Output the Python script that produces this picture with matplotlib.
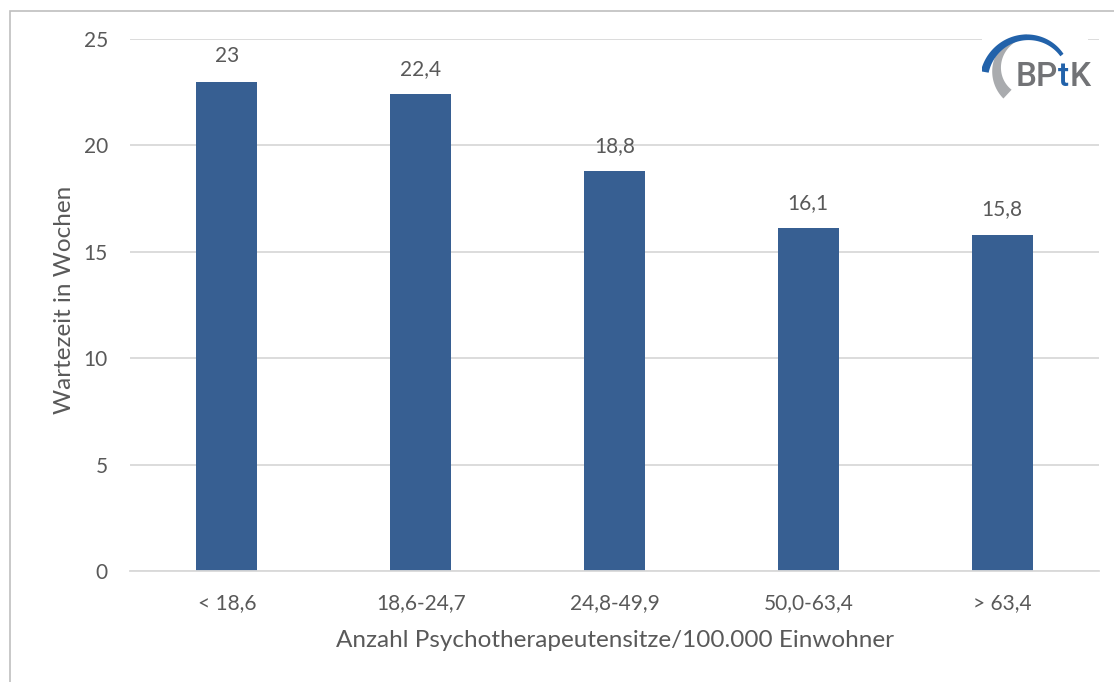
import matplotlib
import numpy as np

matplotlib.use("Agg")
import matplotlib.pyplot as plt
from matplotlib.patches import Polygon, Rectangle


W, H = 1114, 682

categories = ["< 18,6", "18,6-24,7", "24,8-49,9", "50,0-63,4", "> 63,4"]
waiting_weeks = [23, 22.4, 18.8, 16.1, 15.8]
value_labels = ["23", "22,4", "18,8", "16,1", "15,8"]
y_ticks = [0, 5, 10, 15, 20, 25]

BAR_COLOR = "#375f92"
TEXT_COLOR = "#595959"
GRID_COLOR = "#d9d9d9"
FONT = ["Lato", "DejaVu Sans"]
LOGO_FONT = ["Roboto", "DejaVu Sans"]
LOGO_BLUE = "#2262aa"
LOGO_GRAY = "#727376"

plt.rcParams["font.family"] = FONT


def tapered_arc(cx, cy, r0, r1, a0, a1, w0, w1, n=80):
    # band along a curve whose radius and thickness change from start to end
    t = np.linspace(0, 1, n)
    ang = np.radians(a0 + (a1 - a0) * t)
    r = r0 + (r1 - r0) * t
    w = w0 + (w1 - w0) * t
    outer = np.column_stack([cx + (r + w / 2) * np.cos(ang), cy + (r + w / 2) * np.sin(ang)])
    inner = np.column_stack([cx + (r - w / 2) * np.cos(ang), cy + (r - w / 2) * np.sin(ang)])
    return np.vstack([outer, inner[::-1]])


fig = plt.figure(figsize=(W / 100, H / 100), dpi=100)

# light frame of the chart area
fig.patches.append(Rectangle((9.5 / W, -0.1), 1.2, (H - 10.5) / H + 0.1, transform=fig.transFigure,
                             fill=False, edgecolor="#bfbfbf", linewidth=1.2))

ax = fig.add_axes([130 / W, 1 - 571 / H, (1099 - 130) / W, (571 - 39) / H])
x = np.arange(len(categories))
bars = ax.bar(x, waiting_weeks, width=0.315, color=BAR_COLOR, zorder=3)

for bar, label in zip(bars, value_labels):
    ax.annotate(label, (bar.get_x() + bar.get_width() / 2, bar.get_height()),
                xytext=(0, 11), textcoords="offset points", ha="center", va="bottom",
                fontsize=15, color=TEXT_COLOR)

ax.set_xlim(-0.5, len(categories) - 0.5)
ax.set_ylim(0, 25)
ax.set_yticks(y_ticks)
ax.set_xticks(x)
ax.set_xticklabels(categories)
ax.tick_params(axis="both", length=0, labelsize=15, labelcolor=TEXT_COLOR)
ax.tick_params(axis="y", pad=16)
ax.tick_params(axis="x", pad=16)
ax.yaxis.grid(True, color=GRID_COLOR, linewidth=1.3, zorder=0)
for side in ("top", "right", "left"):
    ax.spines[side].set_visible(False)
ax.spines["bottom"].set_color(GRID_COLOR)
ax.spines["bottom"].set_linewidth(1.3)
ax.spines["bottom"].set_zorder(4)

ax.set_xlabel("Anzahl Psychotherapeutensitze/100.000 Einwohner", fontsize=17.5, color=TEXT_COLOR, labelpad=12)
ax.set_ylabel("Wartezeit in Wochen", fontsize=17.5, color=TEXT_COLOR)
ax.yaxis.set_label_coords(-0.057, 0.51)

# BPtK logo, drawn in pixel units (y runs downward)
logo = fig.add_axes([982 / W, 1 - 110 / H, 106 / W, 85 / H])
logo.set_xlim(982, 1088)
logo.set_ylim(110, 25)
logo.axis("off")
logo.add_patch(Rectangle((982, 25), 106, 85, color="white", zorder=0))
logo.add_patch(Polygon(tapered_arc(1030, 70, 33, 34, 133, 265, 12, 3), closed=True,
                       facecolor="#a9abae", zorder=1, linewidth=0))
logo.add_patch(Polygon(tapered_arc(1030, 80, 46, 40.5, 190, 322, 8, 4), closed=True,
                       facecolor=LOGO_BLUE, zorder=2, linewidth=0))
bp = logo.text(1016, 86, "BP", fontsize=24, color=LOGO_GRAY, ha="left", va="baseline", zorder=3,
               family=LOGO_FONT, fontweight="medium", clip_on=False)
t_txt = logo.annotate("t", xy=(1, 0), xycoords=bp, ha="left", va="bottom", fontsize=24,
                      color=LOGO_BLUE, family=LOGO_FONT, fontweight="medium", zorder=3)
logo.annotate("K", xy=(1, 0), xycoords=t_txt, ha="left", va="bottom", fontsize=24,
              color=LOGO_GRAY, family=LOGO_FONT, fontweight="medium", zorder=3)

fig.savefig("out.png", dpi=100)
